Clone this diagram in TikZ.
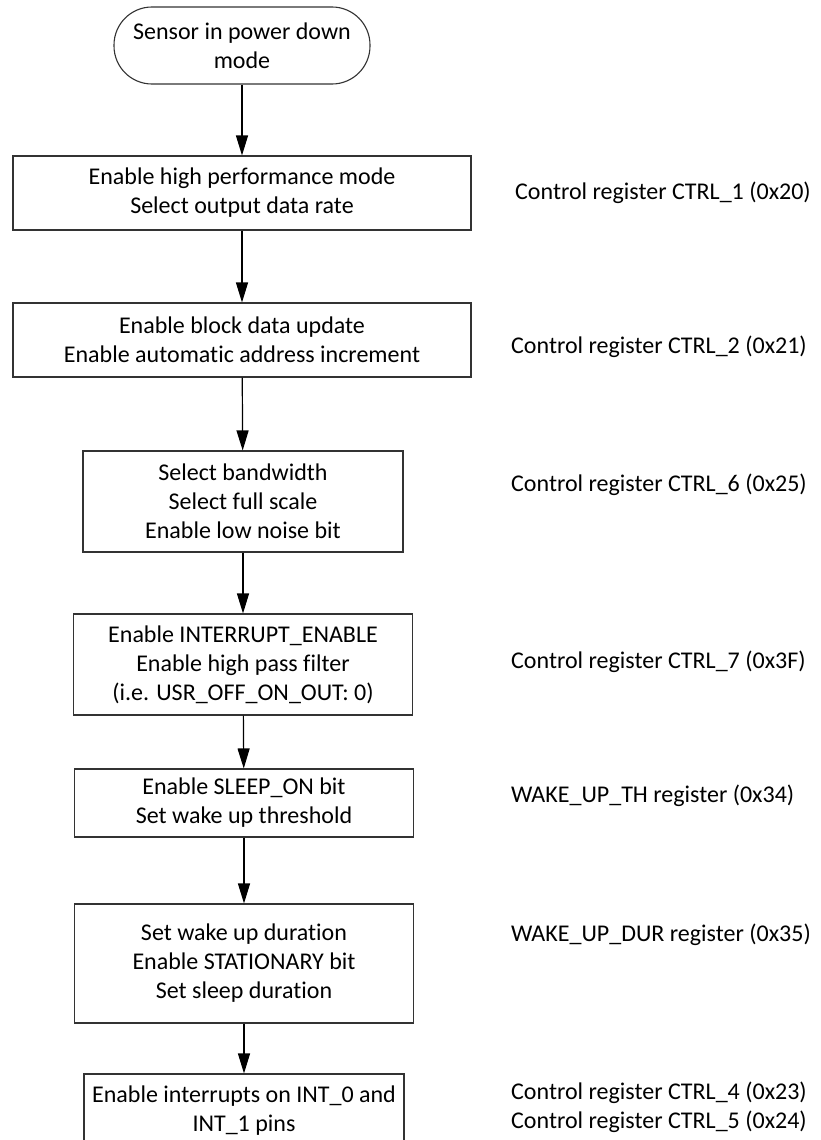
\documentclass[tikz,border=0pt]{standalone}
\usepackage{fontspec}
\setmainfont{Carlito}[Ligatures=NoCommon]
\usetikzlibrary{arrows.meta}

\begin{document}
\begin{tikzpicture}[x=1pt, y=-1pt,
  font=\fontsize{24}{29}\selectfont,
  term/.style={draw=black!80, line width=1.1pt, rounded corners=38pt, align=center, minimum width=256pt, minimum height=77pt, inner sep=0pt},
  box/.style={draw=black!80, line width=1.1pt, align=center, inner sep=0pt},
  reg/.style={anchor=west, align=left, inner sep=0pt},
  arr/.style={-{Triangle[length=20pt,width=12pt]}, line width=1.2pt}
]
\useasboundingbox (0,0) rectangle (821,1140);
\node[term] (start) at (242,45.5) {Sensor in power down\\mode};
\node[box, minimum width=458pt, minimum height=74pt] (perf) at (242,193) {Enable high performance mode\\Select output data rate};
\node[box, minimum width=458pt, minimum height=74pt] (bdu) at (242,340) {Enable block data update\\Enable automatic address increment};
\node[box, minimum width=320pt, minimum height=101pt] (bw) at (243,501.5) {Select bandwidth\\Select full scale\\Enable low noise bit};
\node[box, minimum width=339pt, minimum height=101pt] (irq) at (243,664.5) {Enable INTERRUPT\_ENABLE\\Enable high pass filter\\(i.e. USR\_OFF\_ON\_OUT: 0)};
\node[box, minimum width=339pt, minimum height=68pt] (sleep) at (244,803) {Enable SLEEP\_ON bit\\Set wake up threshold};
\node[box, minimum width=339pt, minimum height=119pt] (dur) at (244,963.5) {Set wake up duration\\Enable STATIONARY bit\\Set sleep duration};
\node[box, minimum width=320pt, minimum height=74pt] (pins) at (244,1111) {Enable interrupts on INT\_0 and\\INT\_1 pins};
\node[reg] (regA) at (515,193) {Control register CTRL\_1 (0x20)};
\node[reg] (regB) at (511,347) {Control register CTRL\_2 (0x21)};
\node[reg] (regC) at (511,485) {Control register CTRL\_6 (0x25)};
\node[reg] (regD) at (511,662) {Control register CTRL\_7 (0x3F)};
\node[reg] (regE) at (511,796) {WAKE\_UP\_TH register (0x34)};
\node[reg] (regF) at (511,935) {WAKE\_UP\_DUR register (0x35)};
\node[reg] (regG) at (511,1107) {Control register CTRL\_4 (0x23)\\Control register CTRL\_5 (0x24)};
\draw[arr] (start) -- (perf); \draw[arr] (perf) -- (bdu); \draw[arr] (bdu) -- (bw);
\draw[arr] (bw) -- (irq); \draw[arr] (irq) -- (sleep); \draw[arr] (sleep) -- (dur);
\draw[arr] (dur) -- (pins);
\end{tikzpicture}
\end{document}
